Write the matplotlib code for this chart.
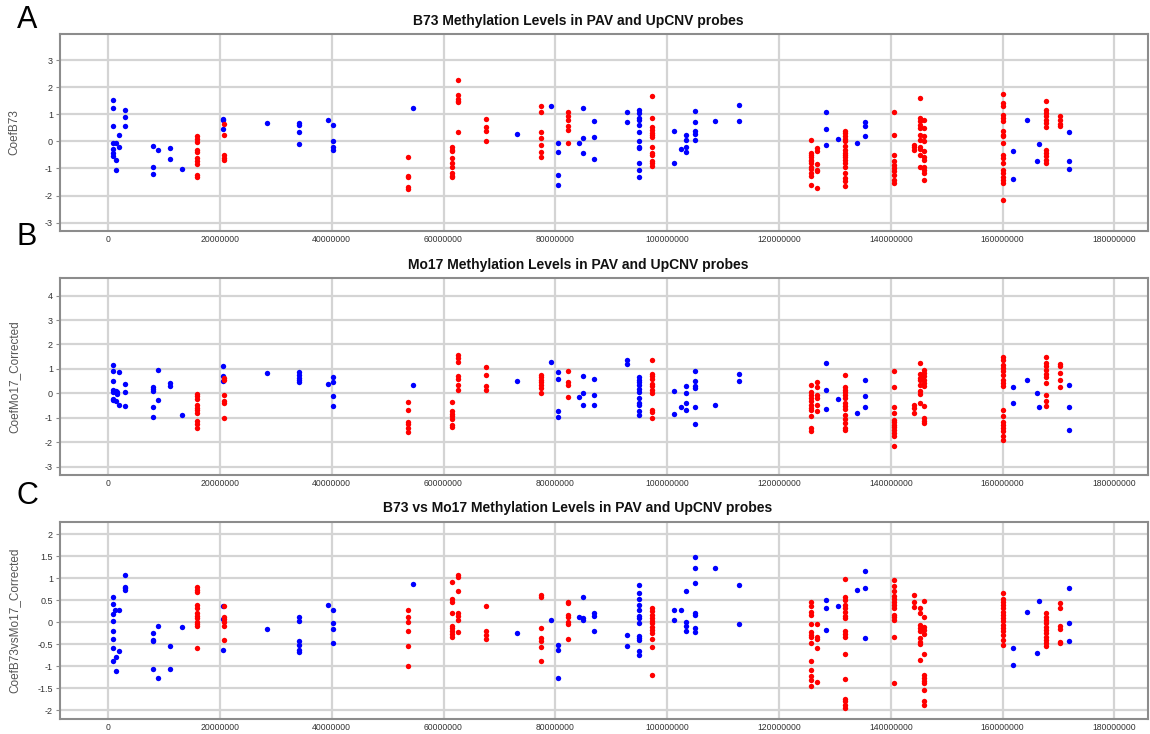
import matplotlib

matplotlib.use("Agg")

import matplotlib.pyplot as plt
from matplotlib.ticker import FuncFormatter, MultipleLocator

plt.rcParams["font.family"] = ["Liberation Sans", "DejaVu Sans"]

# probe position (Mb) -> coefficients, one list per panel and colour
A_BLUE = [
    (0.94, [1.52, 1.23, 0.56, -0.06, -0.28, -0.41, -0.53]),
    (1.4, [-0.04]), (1.5, [-0.68, -1.07]), (2.0, [0.23, -0.19]),
    (3.0, [1.15, 0.9, 0.58]),
    (8.0, [-0.16, -0.96, -1.2]), (8.9, [-0.33]), (11.0, [-0.26, -0.64]),
    (13.2, [-1.02]), (20.5, [0.84, 0.78, 0.46]), (28.4, [0.69]),
    (34.2, [0.68, 0.6, 0.36, -0.1]), (39.3, [0.78]), (40.2, [0.6, 0.0, -0.22, -0.3]),
    (54.6, [1.23]), (73.1, [0.27]), (79.2, [1.32]), (80.4, [-0.06, -0.4, -1.23, -1.6]),
    (84.2, [-0.04]), (84.9, [1.23, 0.12, -0.43]), (87.0, [0.74, 0.16, -0.65]),
    (92.8, [1.07, 0.7]),
    (95.0, [1.17, 1.05, 0.86, 0.8, 0.62, 0.33, 0.0, -0.19, -0.25, -0.78, -1.05, -1.32]),
    (101.2, [0.37, -0.78]), (102.4, [-0.28]), (103.4, [0.25, 0.04, -0.19, -0.4]),
    (104.9, [1.11, 0.7, 0.37, 0.27, 0.06]), (108.6, [0.74]), (112.8, [1.36, 0.74]),
    (128.4, [1.07, 0.46, -0.15]), (130.5, [0.09]), (134.0, [-0.06]),
    (135.3, [0.7, 0.58, 0.21]), (161.9, [-0.35, -1.38]), (164.3, [0.78]),
    (166.2, [-0.72]), (166.5, [-0.09]), (171.9, [0.35, -0.72, -1.02]),
]
A_RED = [
    (15.9, [0.19, 0.09, -0.01, -0.31, -0.38, -0.62, -0.72, -0.83, -1.23, -1.3]),
    (20.8, [0.65, 0.25, -0.51, -0.6, -0.7]),
    (53.7, [-0.56, -1.26, -1.33, -1.68, -1.74]),
    (61.5, [-0.22, -0.3, -0.37, -0.62, -0.8, -0.93, -1.15, -1.26, -1.33]),
    (62.6, [2.27, 1.73, 1.58, 1.5, 1.44, 0.33]),
    (67.6, [0.83, 0.52, 0.37, 0.0]),
    (77.4, [1.3, 1.07, 0.33, 0.12, -0.12, -0.4, -0.56]),
    (82.3, [1.07, 0.93, 0.78, 0.56, 0.43, -0.04]),
    (97.3, [1.67, 0.88, 0.52, 0.43, 0.31, 0.22, 0.15, -0.19, -0.43, -0.49, -0.72, -0.8, -0.89]),
    (125.7, [0.04, -0.41, -0.49, -0.56, -0.68, -0.74, -0.8, -0.93, -1.02, -1.15, -1.27, -1.6]),
    (126.8, [-0.25, -0.37, -0.84, -1.05, -1.1, -1.73]),
    (131.8, [0.37, 0.31, 0.19, 0.09, 0.0, -0.16, -0.31, -0.41, -0.49, -0.58, -0.68,
             -0.8, -0.93, -1.15, -1.36, -1.48, -1.64]),
    (140.6, [1.09, 0.25, -0.49, -0.74, -0.86, -0.99, -1.11, -1.23, -1.42, -1.52]),
    (144.2, [-0.12, -0.21, -0.31]),
    (145.2, [1.6, 0.86, 0.74, 0.62, 0.49, 0.25, 0.06, -0.19, -0.28, -0.49, -0.93]),
    (145.9, [0.8, 0.49, 0.21, 0.0, -0.37, -0.56, -0.68, -0.93, -1.05, -1.17, -1.42]),
    (160.0, [1.77, 1.42, 1.3, 0.99, 0.86, 0.77, 0.37, 0.25, 0.19, -0.04, -0.49, -0.62,
             -0.8, -1.05, -1.17, -1.3, -1.42, -1.54, -2.16]),
    (167.8, [1.48, 1.17, 1.05, 0.93, 0.8, 0.68, 0.52, -0.31, -0.41, -0.53, -0.68, -0.8]),
    (170.2, [0.95, 0.8, 0.65, 0.58]),
]

B_BLUE = [
    (0.94, [1.16, 0.93, 0.49, 0.15, 0.04, -0.23, -0.29]),
    (1.4, [0.08, -0.33]), (1.65, [0.04, -0.01]), (2.0, [0.89, -0.46]),
    (3.0, [0.38, 0.07, -0.5]),
    (8.0, [0.25, 0.18, 0.08, -0.56, -0.97]), (8.9, [0.97, -0.26]), (11.0, [0.42, 0.29]),
    (13.2, [-0.87]), (20.5, [1.1, 0.7, 0.49]), (28.4, [0.83]),
    (34.2, [0.86, 0.76, 0.63, 0.53, 0.45]), (39.3, [0.38]),
    (40.2, [0.67, 0.48, -0.12, -0.5]),
    (54.6, [0.35]), (73.1, [0.52]), (79.2, [1.28]), (80.4, [0.87, 0.6, -0.71, -0.97]),
    (84.3, [-0.15]), (84.9, [0.7, 0.01, -0.48]), (87.0, [0.59, -0.07, -0.48]),
    (92.8, [1.35, 1.2]),
    (95.0, [0.65, 0.56, 0.45, 0.33, 0.18, 0.04, -0.19, -0.4, -0.49, -0.71, -0.9]),
    (101.2, [0.08, -0.83]), (102.4, [-0.57]), (103.4, [0.31, 0.01, -0.4, -0.67]),
    (104.9, [0.93, 0.49, 0.29, 0.23, -0.56, -1.24]), (108.6, [-0.48]), (112.8, [0.8, 0.49]),
    (128.4, [1.24, 0.15, -0.64]), (130.5, [-0.23]), (134.0, [-0.82]),
    (135.3, [0.56, -0.1, -0.57]), (161.9, [0.25, -0.4]), (164.3, [0.53]),
    (166.2, [0.0]), (166.5, [-0.57]), (171.9, [0.35, -0.57, -1.51]),
]
B_RED = [
    (15.9, [-0.01, -0.12, -0.23, -0.49, -0.6, -0.7, -0.8, -1.15, -1.24, -1.42]),
    (20.8, [0.63, 0.56, -0.08, -0.3, -0.4, -1.01]),
    (53.7, [-0.37, -0.67, -1.16, -1.24, -1.42, -1.6]),
    (61.5, [-0.35, -0.74, -0.83, -0.94, -1.04, -1.28, -1.38]),
    (62.6, [1.58, 1.45, 1.27, 0.72, 0.59, 0.33, 0.15]),
    (67.6, [1.06, 0.76, 0.31, 0.15]),
    (77.4, [0.76, 0.67, 0.56, 0.45, 0.33, 0.22, 0.01]),
    (82.3, [0.9, 0.45, 0.35, -0.15]),
    (97.3, [1.38, 0.79, 0.7, 0.59, 0.4, 0.29, 0.15, 0.01, -0.67, -0.78, -1.01]),
    (125.7, [0.35, 0.04, -0.05, -0.19, -0.33, -0.46, -0.6, -0.7, -0.94, -1.42, -1.53]),
    (126.8, [0.45, 0.26, -0.05, -0.19, -0.49, -0.74]),
    (131.8, [0.76, 0.25, 0.15, 0.04, -0.05, -0.19, -0.4, -0.53, -0.64, -0.87, -1.04,
             -1.21, -1.42, -1.51]),
    (140.6, [0.93, 0.25, -0.57, -0.8, -1.08, -1.19, -1.28, -1.39, -1.49, -1.62, -1.76, -2.14]),
    (144.2, [-0.46, -0.6, -0.8]),
    (145.2, [1.24, 0.79, 0.63, 0.53, 0.35, 0.08, -0.01, -0.4]),
    (145.9, [0.97, 0.83, 0.7, 0.56, 0.42, 0.29, -0.53, -1.01, -1.12, -1.21]),
    (160.0, [1.49, 1.35, 1.17, 1.04, 0.9, 0.76, 0.56, 0.42, 0.29, -0.67, -0.91, -1.19,
             -1.28, -1.42, -1.53, -1.76, -1.9]),
    (167.8, [1.49, 1.24, 1.1, 0.97, 0.79, 0.65, 0.42, -0.05, -0.3, -0.5]),
    (170.2, [1.21, 1.1, 0.83, 0.56, 0.26]),
]

C_BLUE = [
    (0.94, [0.58, 0.41, 0.18, 0.04, -0.21, -0.37, -0.59, -0.89]),
    (1.2, [0.28]), (1.5, [-0.78, -1.11]), (2.0, [0.28, -0.65]),
    (3.0, [1.08, 0.81, 0.77, 0.73]),
    (8.0, [-0.25, -0.4, -0.42, -1.07]), (8.9, [-0.08, -1.27]), (11.0, [-0.55, -1.07]),
    (13.2, [-0.11]), (20.5, [0.36, 0.07, -0.63]), (28.4, [-0.15]),
    (34.2, [0.13, 0.02, -0.42, -0.52, -0.64, -0.67]), (39.3, [0.39]),
    (40.2, [0.28, -0.02, -0.15, -0.48]),
    (54.6, [0.88]), (73.1, [-0.25]), (79.2, [0.05]), (80.4, [-0.52, -0.64, -1.27]),
    (84.3, [0.11]), (85.0, [0.57, 0.09, 0.05]), (87.0, [0.22, 0.14, -0.19]),
    (92.8, [-0.29, -0.54]),
    (95.0, [0.85, 0.66, 0.52, 0.39, 0.27, 0.14, 0.09, -0.02, -0.31, -0.36, -0.4, -0.65, -0.74]),
    (101.2, [0.27, 0.05]), (102.4, [0.28]), (103.4, [0.71, 0.0, -0.08, -0.2]),
    (104.9, [1.49, 1.24, 0.89, 0.2, 0.17, -0.14, -0.23]), (108.6, [1.24]),
    (112.8, [0.85, -0.04]),
    (128.4, [0.51, 0.32, -0.17]), (130.5, [0.36]), (134.0, [0.73]),
    (135.3, [1.17, 0.79, -0.35]), (161.9, [-0.59, -0.98]), (164.3, [0.24]),
    (166.2, [-0.69]), (166.5, [0.48]), (171.9, [0.79, -0.01, -0.42]),
]
C_RED = [
    (15.9, [0.8, 0.73, 0.68, 0.39, 0.32, 0.2, 0.14, 0.09, 0.0, -0.05, -0.08, -0.59]),
    (20.8, [0.38, 0.13, 0.08, 0.0, -0.08, -0.4]),
    (53.7, [0.28, 0.11, 0.0, -0.2, -0.55, -0.99]),
    (61.5, [0.92, 0.52, 0.47, 0.22, -0.08, -0.14, -0.2, -0.27, -0.33]),
    (62.6, [1.08, 1.02, 0.7, 0.2, 0.14, 0.05, -0.23]),
    (67.6, [0.36, -0.2, -0.3, -0.39]),
    (77.4, [0.62, 0.57, -0.14, -0.36, -0.42, -0.57, -0.89]),
    (82.3, [0.47, 0.43, 0.17, 0.11, 0.0, -0.05, -0.39]),
    (97.3, [0.32, 0.26, 0.17, 0.09, 0.04, -0.02, -0.1, -0.17, -0.25, -0.39, -0.57, -1.2]),
    (125.7, [0.47, 0.36, 0.24, 0.17, -0.04, -0.23, -0.29, -0.33, -0.48, -0.89, -1.08,
             -1.23, -1.31, -1.45]),
    (126.8, [-0.04, -0.33, -0.37, -0.59, -1.35]),
    (131.8, [0.98, 0.58, 0.51, 0.39, 0.32, 0.24, 0.14, 0.09, -0.19, -0.27, -0.33, -0.73,
             -1.28, -1.75, -1.8, -1.88, -1.94]),
    (140.6, [0.96, 0.83, 0.7, 0.6, 0.52, 0.45, 0.39, 0.32, 0.17, 0.11, 0.05, -0.33, -1.37]),
    (144.2, [0.62, 0.47, 0.34]),
    (145.2, [0.32, 0.2, -0.06, -0.14, -0.21, -0.36, -0.44, -0.49, -0.86]),
    (145.9, [0.48, 0.11, -0.1, -0.17, -0.27, -0.73, -1.2, -1.27, -1.33, -1.39, -1.54,
             -1.8, -1.88]),
    (160.0, [0.66, 0.52, 0.47, 0.39, 0.32, 0.24, 0.17, 0.09, 0.02, -0.06, -0.14, -0.21,
             -0.29, -0.4, -0.52]),
    (167.8, [0.2, 0.13, 0.05, -0.02, -0.1, -0.17, -0.25, -0.33, -0.4, -0.48, -0.54]),
    (170.2, [0.43, 0.32, -0.08, -0.16, -0.44, -0.48]),
]

PANELS = [
    ("A", "B73 Methylation Levels in PAV and UpCNV probes", "CoefB73",
     A_BLUE, A_RED, (-3.31, 3.97), 1.0),
    ("B", "Mo17 Methylation Levels in PAV and UpCNV probes", "CoefMo17_Corrected",
     B_BLUE, B_RED, (-3.34, 4.72), 1.0),
    ("C", "B73 vs Mo17 Methylation Levels in PAV and UpCNV probes",
     "CoefB73vsMo17_Corrected", C_BLUE, C_RED, (-2.2, 2.28), 0.5),
]

# axes boxes in pixels: top, bottom (figure is 1150 x 734)
BOXES = [(34, 231), (278, 475), (522, 719)]
LETTER_Y = [20, 237, 496]
TITLE_Y = [21, 265, 508]


def _flatten(columns):
    xs, ys = [], []
    for pos, vals in columns:
        for v in vals:
            xs.append(pos * 1e6)
            ys.append(v)
    return xs, ys


fig = plt.figure(figsize=(11.5, 7.34), dpi=100)
W, H = 1150, 734

for i, (letter, title, ylabel, blue, red, ylim, ystep) in enumerate(PANELS):
    top, bottom = BOXES[i]
    ax = fig.add_axes([60 / W, 1 - bottom / H, 1088 / W, (bottom - top) / H])

    bx, by = _flatten(blue)
    rx, ry = _flatten(red)
    ax.scatter(bx, by, s=15, color="#0000ff", linewidths=0, zorder=3)
    ax.scatter(rx, ry, s=15, color="#ff0000", linewidths=0, zorder=3)

    ax.set_xlim(-8.6e6, 186e6)
    ax.set_ylim(*ylim)
    ax.xaxis.set_major_locator(MultipleLocator(20e6))
    ax.yaxis.set_major_locator(MultipleLocator(ystep))
    ax.xaxis.set_major_formatter(FuncFormatter(lambda v, p: f"{int(round(v))}"))
    if ystep == 1.0:
        ax.yaxis.set_major_formatter(FuncFormatter(lambda v, p: f"{int(round(v))}"))
    else:
        ax.yaxis.set_major_formatter(FuncFormatter(lambda v, p: f"{v:g}"))

    ax.grid(True, color="#d4d4d4", linewidth=1.6, zorder=0)
    ax.set_axisbelow(True)
    for side in ax.spines.values():
        side.set_color("#8c8c8c")
        side.set_linewidth(1.5)
    ax.tick_params(axis="x", length=0, labelsize=6.2, labelcolor="#333333", pad=3)
    ax.tick_params(axis="y", length=3, color="#8c8c8c", labelsize=6.5,
                   labelcolor="#333333", pad=2)
    ax.set_ylabel(ylabel, fontsize=8.5, color="#555555")
    ax.yaxis.set_label_coords(-0.036, 0.5)

    fig.text(578 / W, 1 - TITLE_Y[i] / H, title, ha="center", va="center",
             fontsize=10, fontweight="bold", color="#111111")
    fig.text(27 / W, 1 - LETTER_Y[i] / H, letter, ha="center", va="center",
             fontsize=22, color="black")

fig.savefig("out.png", dpi=100)
